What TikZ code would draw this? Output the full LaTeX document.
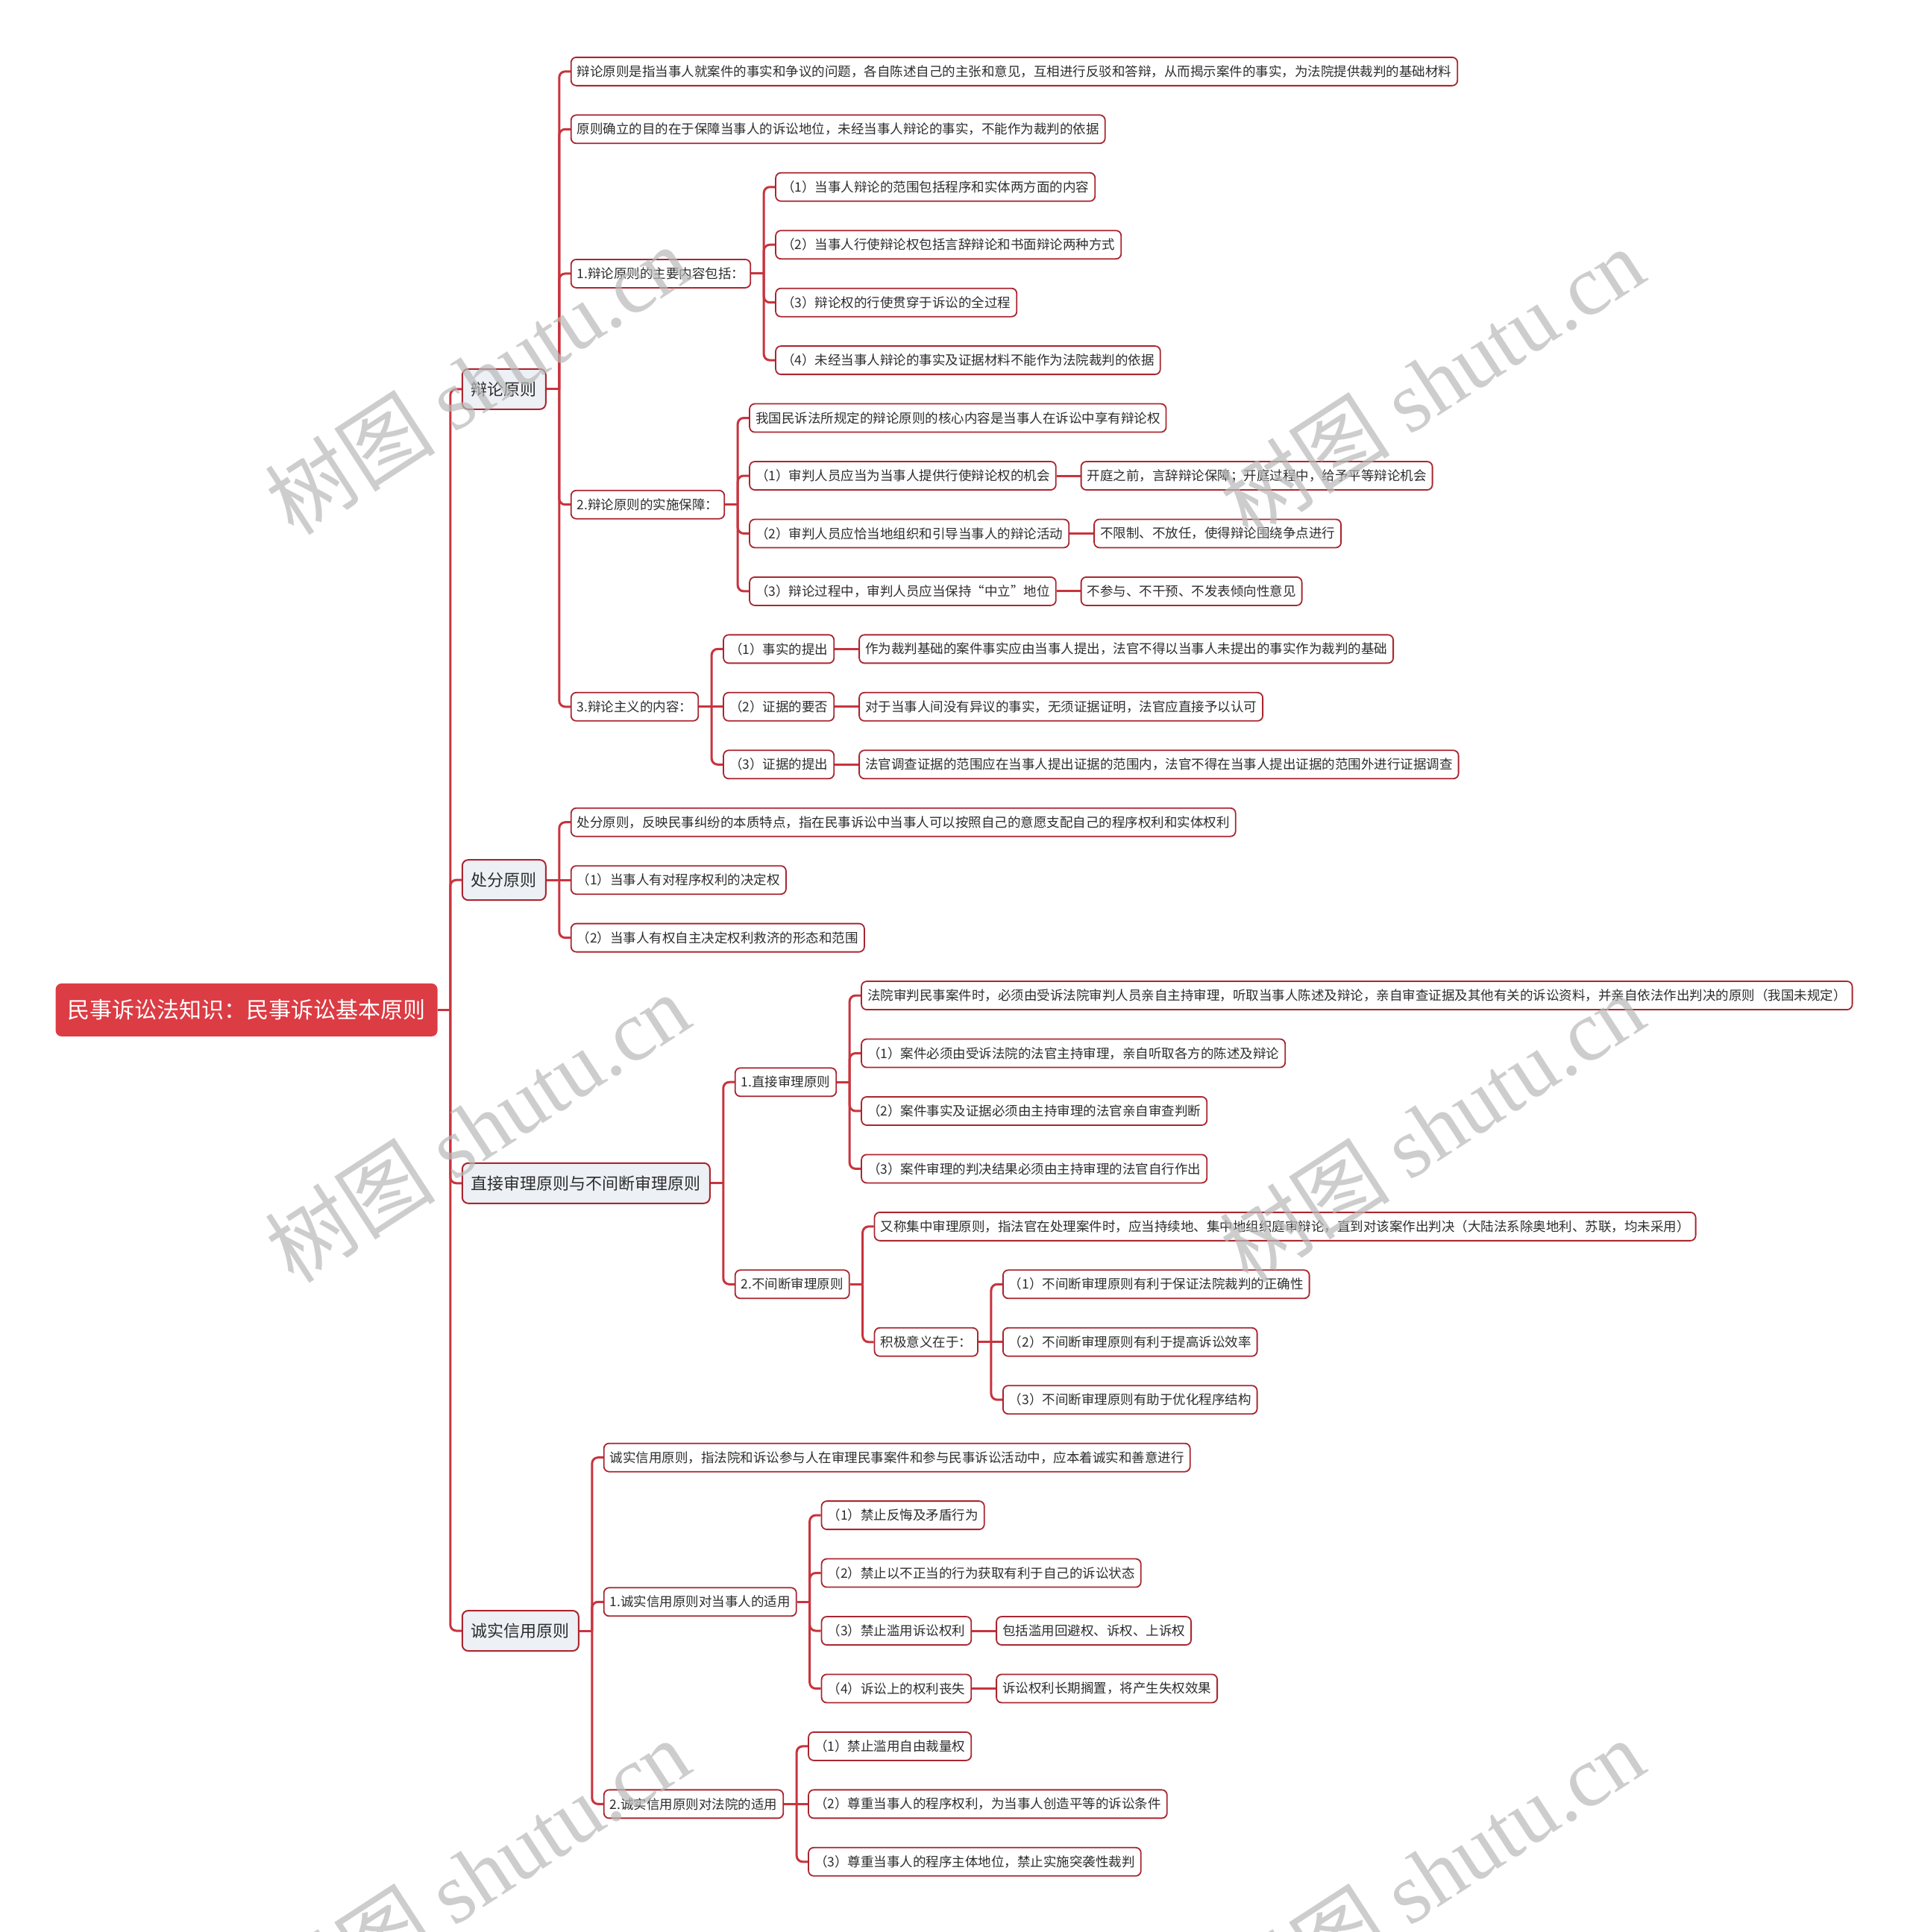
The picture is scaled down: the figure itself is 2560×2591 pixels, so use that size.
\documentclass[tikz,border=0pt]{standalone}
\usepackage{fontspec}
\setmainfont{Noto Sans CJK SC}
\newfontfamily\wmlatin{Liberation Serif}
\usetikzlibrary{calc}
\definecolor{rootred}{RGB}{220,60,68}
\definecolor{linered}{RGB}{200,52,62}
\definecolor{boxred}{RGB}{170,38,48}
\definecolor{lvfill}{RGB}{237,240,245}
\definecolor{txt}{RGB}{45,45,45}
\definecolor{wmgray}{RGB}{185,185,185}
\pgfdeclarelayer{bg}\pgfdeclarelayer{lines}\pgfdeclarelayer{wm}
\pgfsetlayers{bg,lines,main,wm}
\tikzset{
  conn/.style={draw=linered, line width=3pt},
  rootbox/.style={fill=rootred, text=white, rounded corners=8pt, font=\fontsize{30}{34}\selectfont, minimum height=71pt, inner xsep=16pt, inner ysep=0pt},
  topicbox/.style={draw=boxred, line width=2pt, fill=lvfill, text=txt, rounded corners=8pt, font=\fontsize{22}{26}\selectfont, minimum height=54pt, inner xsep=12pt, inner ysep=0pt},
  leafbox/.style={draw=boxred, line width=1.8pt, fill=white, text=txt, rounded corners=7pt, font=\fontsize{17.5}{21}\selectfont, minimum height=38pt, inner xsep=8pt, inner ysep=0pt},
  wmark/.style={text=wmgray, opacity=0.7, rotate=33, font=\fontsize{115}{120}\selectfont}
}
% child on another row: elbow connector with rounded corner
\newcommand\kid[5]{%
  \pgfmathsetmacro\kidy{95.85+77.45*#3}%
  \path (#2.east) ++(32,0) coordinate (#1-at);
  \node[#4, anchor=west] (#1) at (#1-at |- 0,\kidy) {#5};
  \begin{pgfonlayer}{lines}
  \draw[conn] (#2.east) -- ++(17,0) coordinate (#1-tr);
  \draw[conn, rounded corners=8pt] (#1-tr) |- (#1.west);
  \end{pgfonlayer}
}
% child on the same row: straight connector
\newcommand\kidflat[4]{%
  \node[#3, anchor=west] (#1) at ([xshift=32pt]#2.east) {#4};
  \begin{pgfonlayer}{lines}
  \draw[conn] (#2.east) -- (#1.west);
  \end{pgfonlayer}
}
\begin{document}
\begin{tikzpicture}[x=1pt,y=-1pt]
\useasboundingbox (0,0) rectangle (2560,2591);
\begin{pgfonlayer}{bg}
\fill[white] (0,0) rectangle (2560,2591);
\end{pgfonlayer}
\node[rootbox, anchor=west] (root) at (74.4,1354.4) {民事诉讼法知识：民事诉讼基本原则};
\kid{tA}{root}{5.5}{topicbox}{辩论原则}
\kid{tB}{root}{14}{topicbox}{处分原则}
\kid{tC}{root}{19.25}{topicbox}{直接审理原则与不间断审理原则}
\kid{tD}{root}{27}{topicbox}{诚实信用原则}
% 辩论原则
\kid{A1}{tA}{0}{leafbox}{辩论原则是指当事人就案件的事实和争议的问题，各自陈述自己的主张和意见，互相进行反驳和答辩，从而揭示案件的事实，为法院提供裁判的基础材料}
\kid{A2}{tA}{1}{leafbox}{原则确立的目的在于保障当事人的诉讼地位，未经当事人辩论的事实，不能作为裁判的依据}
\kid{A3}{tA}{3.5}{leafbox}{1.辩论原则的主要内容包括：}
\kid{a31}{A3}{2}{leafbox}{（1）当事人辩论的范围包括程序和实体两方面的内容}
\kid{a32}{A3}{3}{leafbox}{（2）当事人行使辩论权包括言辞辩论和书面辩论两种方式}
\kid{a33}{A3}{4}{leafbox}{（3）辩论权的行使贯穿于诉讼的全过程}
\kid{a34}{A3}{5}{leafbox}{（4）未经当事人辩论的事实及证据材料不能作为法院裁判的依据}
\kid{A4}{tA}{7.5}{leafbox}{2.辩论原则的实施保障：}
\kid{a41}{A4}{6}{leafbox}{我国民诉法所规定的辩论原则的核心内容是当事人在诉讼中享有辩论权}
\kid{a42}{A4}{7}{leafbox}{（1）审判人员应当为当事人提供行使辩论权的机会}
\kidflat{a42x}{a42}{leafbox}{开庭之前，言辞辩论保障；开庭过程中，给予平等辩论机会}
\kid{a43}{A4}{8}{leafbox}{（2）审判人员应恰当地组织和引导当事人的辩论活动}
\kidflat{a43x}{a43}{leafbox}{不限制、不放任，使得辩论围绕争点进行}
\kid{a44}{A4}{9}{leafbox}{（3）辩论过程中，审判人员应当保持“中立”地位}
\kidflat{a44x}{a44}{leafbox}{不参与、不干预、不发表倾向性意见}
\kid{A5}{tA}{11}{leafbox}{3.辩论主义的内容：}
\kid{a51}{A5}{10}{leafbox}{（1）事实的提出}
\kidflat{a51x}{a51}{leafbox}{作为裁判基础的案件事实应由当事人提出，法官不得以当事人未提出的事实作为裁判的基础}
\kidflat{a52}{A5}{leafbox}{（2）证据的要否}
\kidflat{a52x}{a52}{leafbox}{对于当事人间没有异议的事实，无须证据证明，法官应直接予以认可}
\kid{a53}{A5}{12}{leafbox}{（3）证据的提出}
\kidflat{a53x}{a53}{leafbox}{法官调查证据的范围应在当事人提出证据的范围内，法官不得在当事人提出证据的范围外进行证据调查}
% 处分原则
\kid{B1}{tB}{13}{leafbox}{处分原则，反映民事纠纷的本质特点，指在民事诉讼中当事人可以按照自己的意愿支配自己的程序权利和实体权利}
\kidflat{B2}{tB}{leafbox}{（1）当事人有对程序权利的决定权}
\kid{B3}{tB}{15}{leafbox}{（2）当事人有权自主决定权利救济的形态和范围}
% 直接审理
\kid{C1}{tC}{17.5}{leafbox}{1.直接审理原则}
\kid{c11}{C1}{16}{leafbox}{法院审判民事案件时，必须由受诉法院审判人员亲自主持审理，听取当事人陈述及辩论，亲自审查证据及其他有关的诉讼资料，并亲自依法作出判决的原则（我国未规定）}
\kid{c12}{C1}{17}{leafbox}{（1）案件必须由受诉法院的法官主持审理，亲自听取各方的陈述及辩论}
\kid{c13}{C1}{18}{leafbox}{（2）案件事实及证据必须由主持审理的法官亲自审查判断}
\kid{c14}{C1}{19}{leafbox}{（3）案件审理的判决结果必须由主持审理的法官自行作出}
\kid{C2}{tC}{21}{leafbox}{2.不间断审理原则}
\kid{c21}{C2}{20}{leafbox}{又称集中审理原则，指法官在处理案件时，应当持续地、集中地组织庭审辩论，直到对该案作出判决（大陆法系除奥地利、苏联，均未采用）}
\kid{c22}{C2}{22}{leafbox}{积极意义在于：}
\kid{c221}{c22}{21}{leafbox}{（1）不间断审理原则有利于保证法院裁判的正确性}
\kidflat{c222}{c22}{leafbox}{（2）不间断审理原则有利于提高诉讼效率}
\kid{c223}{c22}{23}{leafbox}{（3）不间断审理原则有助于优化程序结构}
% 诚实信用
\kid{D1}{tD}{24}{leafbox}{诚实信用原则，指法院和诉讼参与人在审理民事案件和参与民事诉讼活动中，应本着诚实和善意进行}
\kid{D2}{tD}{26.5}{leafbox}{1.诚实信用原则对当事人的适用}
\kid{d21}{D2}{25}{leafbox}{（1）禁止反悔及矛盾行为}
\kid{d22}{D2}{26}{leafbox}{（2）禁止以不正当的行为获取有利于自己的诉讼状态}
\kid{d23}{D2}{27}{leafbox}{（3）禁止滥用诉讼权利}
\kidflat{d23x}{d23}{leafbox}{包括滥用回避权、诉权、上诉权}
\kid{d24}{D2}{28}{leafbox}{（4）诉讼上的权利丧失}
\kidflat{d24x}{d24}{leafbox}{诉讼权利长期搁置，将产生失权效果}
\kid{D3}{tD}{30}{leafbox}{2.诚实信用原则对法院的适用}
\kid{d31}{D3}{29}{leafbox}{（1）禁止滥用自由裁量权}
\kidflat{d32}{D3}{leafbox}{（2）尊重当事人的程序权利，为当事人创造平等的诉讼条件}
\kid{d33}{D3}{31}{leafbox}{（3）尊重当事人的程序主体地位，禁止实施突袭性裁判}
% watermarks
\begin{pgfonlayer}{wm}
\node[wmark] (wm1) at (640,509) {树图 {\wmlatin shutu.cn}};
\node[wmark] (wm2) at (1920,512) {树图 {\wmlatin shutu.cn}};
\node[wmark] (wm3) at (640,1512) {树图 {\wmlatin shutu.cn}};
\node[wmark] (wm4) at (1920,1512) {树图 {\wmlatin shutu.cn}};
\node[wmark] (wm5) at (640,2512) {树图 {\wmlatin shutu.cn}};
\node[wmark] (wm6) at (1920,2512) {树图 {\wmlatin shutu.cn}};
\end{pgfonlayer}
\end{tikzpicture}
\end{document}
